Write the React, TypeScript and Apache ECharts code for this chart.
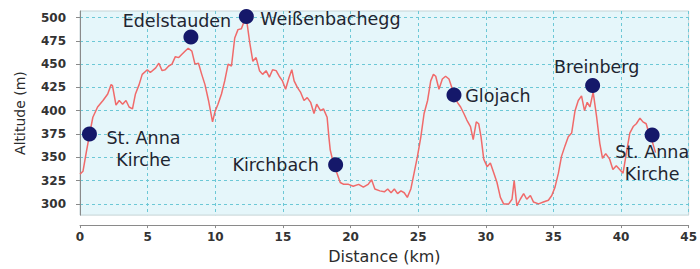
import React, { useEffect, useRef } from 'react';
import * as echarts from 'echarts';

const distanceKm = [
  0, 0.22, 0.46, 0.7, 0.95, 1.3, 1.7, 2.05, 2.3, 2.4, 2.66, 2.9, 3.15, 3.4, 3.63, 3.88,
  4.1, 4.37, 4.6, 4.98, 5.2, 5.6, 5.83, 6.07, 6.3, 6.56, 6.8, 7.05, 7.3, 7.5, 7.78, 8.0,
  8.27, 8.5, 8.76, 9.0, 9.24, 9.5, 9.8, 9.98, 10.2, 10.46, 10.7, 10.95, 11.2, 11.44, 11.68,
  11.93, 12.17, 12.34, 12.54, 12.78, 13.02, 13.27, 13.5, 13.76, 14.0, 14.24, 14.5, 14.73,
  14.97, 15.2, 15.46, 15.66, 15.83, 16.07, 16.3, 16.56, 16.8, 17.05, 17.3, 17.5, 17.78, 18.0,
  18.27, 18.4, 18.5, 18.76, 19.0, 19.24, 19.5, 19.85, 20.2, 20.6, 20.95, 21.3, 21.56, 21.8,
  22.17, 22.5, 22.75, 23.0, 23.24, 23.48, 23.73, 23.97, 24.2, 24.46, 24.7, 24.95, 25.2,
  25.44, 25.7, 25.93, 26.13, 26.3, 26.54, 26.79, 27.03, 27.28, 27.65, 27.9, 28.14, 28.38,
  28.6, 28.87, 29.07, 29.3, 29.48, 29.65, 29.85, 30.1, 30.34, 30.6, 30.83, 31.08, 31.32,
  31.7, 31.94, 32.1, 32.3, 32.55, 32.8, 33.03, 33.3, 33.53, 33.9, 34.26, 34.63, 34.88,
  35.12, 35.37, 35.6, 35.85, 36.1, 36.35, 36.6, 36.84, 37.08, 37.3, 37.5, 37.7, 37.94,
  38.2, 38.43, 38.63, 38.87, 39.16, 39.4, 39.65, 39.9, 40.15, 40.4, 40.65, 40.9, 41.13,
  41.4, 41.62, 41.86, 42.1, 42.35, 42.55,
];

const altitudeM = [
  332, 335, 355, 374, 393, 404, 411, 418, 428, 427, 406, 411, 407, 411, 404, 402,
  418, 428, 439, 444, 441, 446, 451, 443, 444, 448, 450, 458, 457, 460, 464, 467,
  464, 450, 451, 439, 428, 411, 388, 399, 407, 418, 432, 450, 448, 478, 487,
  488, 497, 495, 474, 453, 457, 443, 439, 443, 436, 444, 443, 437,
  432, 423, 436, 444, 432, 425, 420, 411, 414, 409, 397, 407, 400, 402,
  393, 372, 358, 342, 333, 323, 321, 321, 319, 321, 318, 321, 326, 316,
  314, 313, 316, 312, 316, 311, 314, 312, 307, 316, 333, 351, 372,
  397, 411, 432, 439, 437, 423, 434, 437, 434, 418, 409, 404, 397,
  390, 383, 369, 388, 386, 372, 348, 340, 344, 333, 323, 307, 300,
  300, 305, 325, 298, 305, 311, 305, 309, 302, 300, 302, 304, 309,
  318, 333, 351, 362, 372, 376, 400, 411, 416, 400, 409, 404, 420,
  393, 365, 349, 354, 348, 337, 341, 337, 333, 355, 376, 383, 386,
  392, 388, 386, 374, 365, 355,
];

const waypointNames = [
  'St. Anna\nKirche', 'Edelstauden', 'Weißenbachegg', 'Kirchbach', 'Glojach', 'Breinberg', 'St. Anna\nKirche',
];
const waypointKm = [0.7, 8.2, 12.3, 18.9, 27.65, 37.9, 42.3];
const waypointAlt = [375, 479, 501, 342, 417, 427, 374];

const yTickValues = [300, 325, 350, 375, 400, 425, 450, 475, 500];

const labelOffsets = [[54, 15], [-14, -16], [84, 2], [-60, 0], [44, 1], [4, -19], [0, 28]];

export default function App() {
  const ref = useRef<HTMLDivElement>(null);

  useEffect(() => {
    if (!ref.current) return;
    const chart = echarts.init(ref.current, undefined, { renderer: 'svg' });
    const font = 'DejaVu Sans';
    const axisColor = '#8a8a8a';
    const gridLine = { show: true, lineStyle: { color: '#6cc8d6', type: [3, 3] as any, width: 1 } };

    const profile = distanceKm.map((d, i) => [d, altitudeM[i]]);
    const points = waypointNames.map((n, i) => ({
      name: n,
      value: [waypointKm[i], waypointAlt[i]],
      label: { offset: labelOffsets[i] },
    }));

    chart.setOption({
      animation: false,
      grid: {
        left: 80,
        top: 11,
        width: 611,
        height: 207,
        show: true,
        backgroundColor: '#e5f6fa',
        borderColor: '#c5d3d6',
        borderWidth: 1,
      },
      xAxis: {
        type: 'value',
        min: 0,
        max: 45,
        interval: 5,
        offset: 10,
        axisLine: { show: true, lineStyle: { color: axisColor, width: 1 } },
        axisTick: { show: true, length: 3, lineStyle: { color: axisColor } },
        axisLabel: { fontFamily: font, fontSize: 12, fontWeight: 'bold', color: '#333', margin: 6 },
        splitLine: gridLine,
        name: 'Distance (km)',
        nameLocation: 'middle',
        nameGap: 21,
        nameTextStyle: { fontFamily: font, fontSize: 16, color: '#2b2b2b' },
      },
      yAxis: {
        type: 'value',
        min: 288,
        max: 507,
        offset: 7,
        axisLine: { show: true, lineStyle: { color: axisColor, width: 1 } },
        axisTick: { show: true, length: 4, customValues: yTickValues, lineStyle: { color: axisColor } },
        axisLabel: {
          customValues: yTickValues,
          fontFamily: font,
          fontSize: 12,
          fontWeight: 'bold',
          color: '#333',
          margin: 7,
        },
        splitLine: gridLine,
        name: 'Altitude (m)',
        nameLocation: 'middle',
        nameGap: 46,
        nameTextStyle: { fontFamily: font, fontSize: 14, color: '#2b2b2b' },
      },
      series: [
        {
          type: 'line',
          data: profile,
          showSymbol: false,
          clip: false,
          lineStyle: { color: '#f06a6a', width: 1.5 },
          z: 2,
        },
        {
          type: 'scatter',
          data: points,
          symbolSize: 15,
          itemStyle: { color: '#15186a', opacity: 1 },
          z: 3,
          label: {
            show: true,
            position: 'inside',
            formatter: '{b}',
            fontFamily: font,
            fontSize: 17.5,
            lineHeight: 22,
            align: 'center',
            verticalAlign: 'middle',
            color: '#1f2530',
          },
        },
      ],
    });

    return () => chart.dispose();
  }, []);

  return (
    <div
      ref={ref}
      style={{ position: 'fixed', left: 0, top: 0, width: 700, height: 269, background: '#fff' }}
    />
  );
}
